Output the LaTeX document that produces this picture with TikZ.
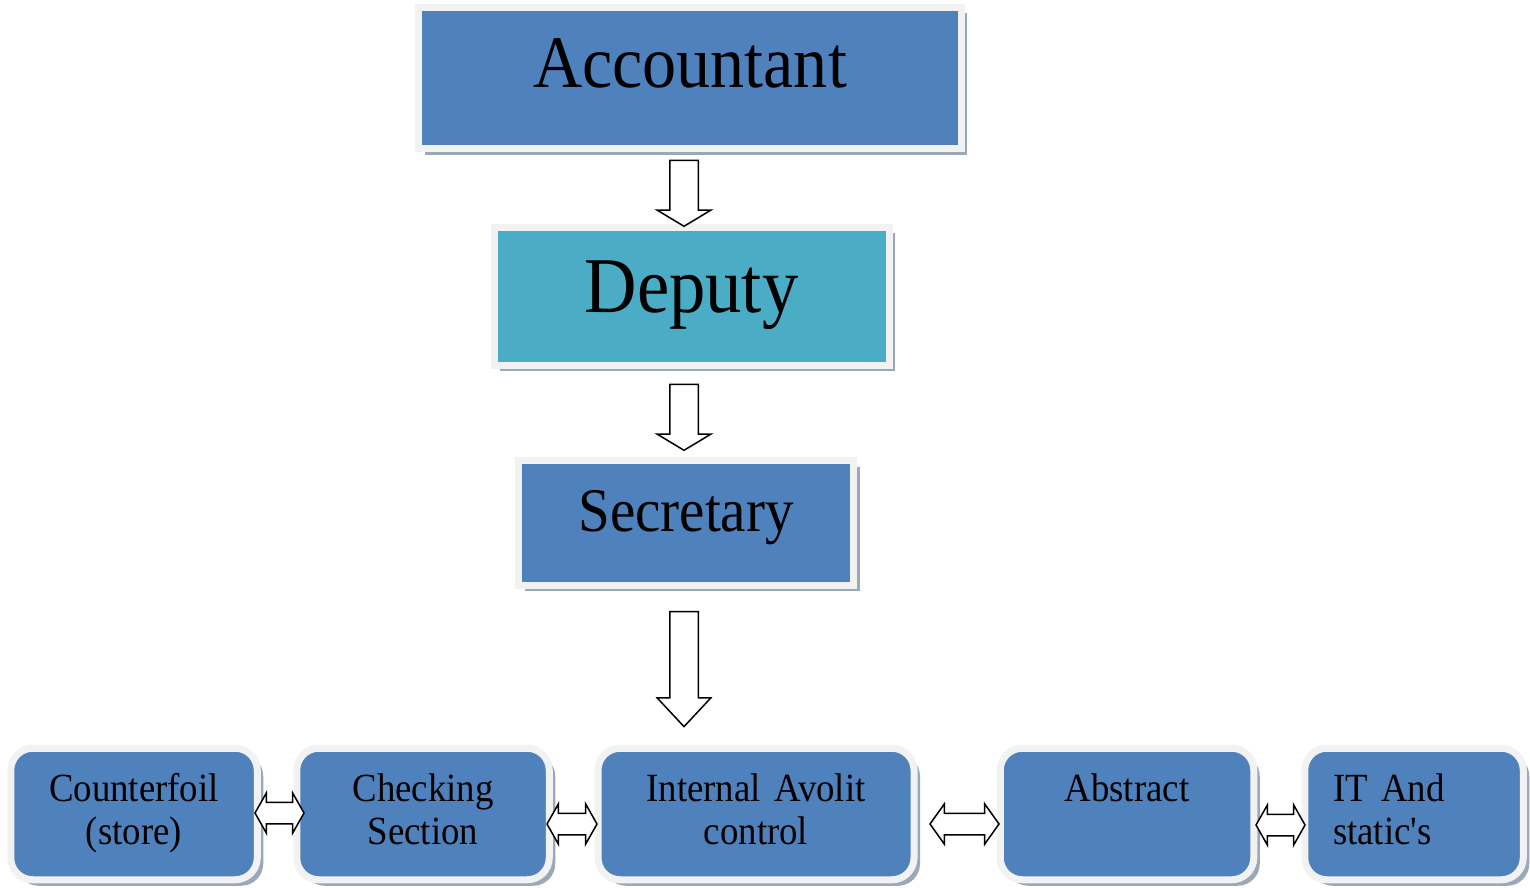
\documentclass[tikz,border=0pt]{standalone}
\usepackage{fontspec}
\setmainfont[FakeStretch=0.92]{Liberation Serif}
\usetikzlibrary{shapes.arrows,shadows}
\definecolor{boxblue}{HTML}{4F81BD}
\definecolor{boxteal}{HTML}{4BACC6}
\definecolor{framegray}{HTML}{F2F2F2}
\definecolor{shadowgray}{HTML}{9AA8BA}
\newcommand\unitfont{\fontsize{40}{43}\selectfont\spaceskip=7pt\relax}
\begin{document}
\begin{tikzpicture}
		[x=1pt,y=-1pt,
		postbox/.style={rectangle,fill=boxblue,draw=framegray,line width=7pt,inner sep=0pt,
			drop shadow={shadow xshift=6pt,shadow yshift=-6pt,fill=shadowgray,opacity=1}},
		unitbox/.style={postbox,rounded corners=22pt,minimum height=131.5pt,align=center,
			text width=230pt,font=\unitfont,text height=10pt,text depth=36pt},
		downarrow/.style={single arrow,draw=black,fill=white,line width=1.5pt,inner sep=13.5pt,
			single arrow head extend=12.5pt,single arrow head indent=0pt,
			shape border rotate=270,minimum height=#1},
		linkarrow/.style={double arrow,draw=black,fill=white,line width=1.5pt,inner sep=10pt,
			double arrow head extend=9.5pt,double arrow head indent=0pt,
			double arrow tip angle=121,minimum height=#1}]
		\useasboundingbox (0,0) rectangle (1530,888);
		% chain of posts
		\node[postbox,name=acc,minimum width=542.5pt,minimum height=141.5pt,
			font=\fontsize{74}{80}\selectfont,text height=50pt,text depth=30pt] at (690,78) {Accountant};
		\node[postbox,name=dep,fill=boxteal,minimum width=395pt,minimum height=138pt,
			font=\fontsize{79}{85}\selectfont,text height=55pt,text depth=22pt] at (691.5,296) {Deputy};
		\node[postbox,name=sec,minimum width=335pt,minimum height=124.5pt,
			font=\fontsize{62}{68}\selectfont,text height=43pt,text depth=27pt] at (686,523) {Secretary};
		\node[downarrow=66pt,single arrow tip angle=118,name=d1] at (684,189) {};
		\node[downarrow=66pt,single arrow tip angle=118,name=d2] at (684,413) {};
		\node[downarrow=115pt,single arrow tip angle=86,name=d3] at (684,661.5) {};
		% units on the bottom row
		\node[unitbox,name=cf,minimum width=246.5pt] at (134,814) {Counterfoil\\(store)};
		\node[unitbox,name=cs,minimum width=252.5pt] at (423,814) {Checking\\Section};
		\node[unitbox,name=ia,minimum width=316pt] at (756,814) {Internal Avolit\\control};
		\node[unitbox,name=ab,minimum width=253.5pt] at (1127,814) {Abstract\\\mbox{}};
		\node[unitbox,name=it,minimum width=218.5pt,align=left,text width=162pt] at (1414,814) {IT And\\static\textquotesingle s};
		\node[linkarrow=49pt,name=l1] at (279.5,813) {};
		\node[linkarrow=50pt,name=l2] at (572,824) {};
		\node[linkarrow=69pt,double arrow tip angle=109,name=l3] at (964.5,824) {};
		\node[linkarrow=49pt,name=l4] at (1280.5,825) {};
	\end{tikzpicture}
\end{document}
